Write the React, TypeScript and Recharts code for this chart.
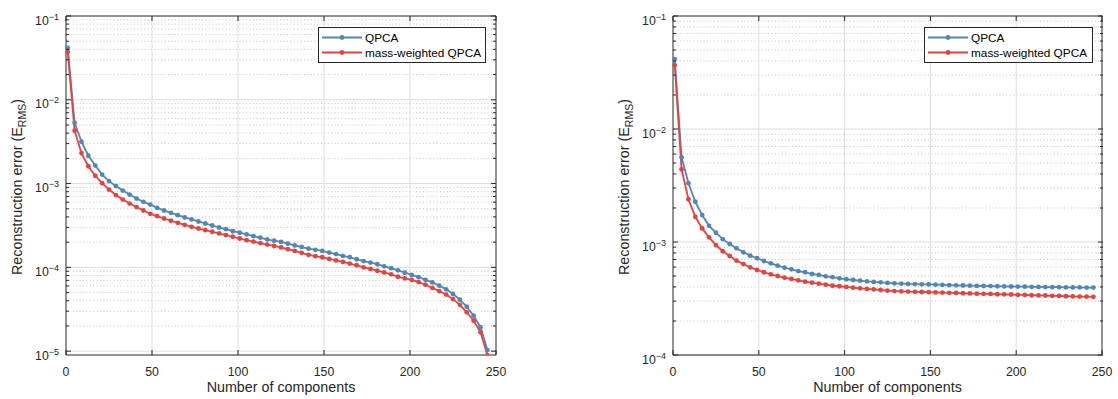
import React from "react";
import {
  LineChart,
  Line,
  XAxis,
  YAxis,
  ReferenceLine,
  Legend,
} from "recharts";

// number of components (x)
const components = [
  1, 5, 9, 13, 17, 21, 25, 29, 33, 37, 41, 45, 49, 53, 57, 61, 65, 69, 73, 77,
  81, 85, 89, 93, 97, 101, 105, 109, 113, 117, 121, 125, 129, 133, 137, 141,
  145, 149, 153, 157, 161, 165, 169, 173, 177, 181, 185, 189, 193, 197, 201,
  205, 209, 213, 217, 221, 225, 229, 233, 237, 241, 245,
];

// left panel
const leftQpca = [
  0.0416, 5.32e-3, 3.16e-3, 2.15e-3, 1.64e-3, 1.28e-3, 1.07e-3, 9.33e-4,
  8.26e-4, 7.4e-4, 6.63e-4, 6.05e-4, 5.62e-4, 5.14e-4, 4.77e-4, 4.48e-4,
  4.2e-4, 3.94e-4, 3.73e-4, 3.53e-4, 3.34e-4, 3.16e-4, 2.99e-4, 2.86e-4,
  2.7e-4, 2.59e-4, 2.47e-4, 2.36e-4, 2.26e-4, 2.15e-4, 2.08e-4, 2.01e-4,
  1.92e-4, 1.83e-4, 1.75e-4, 1.67e-4, 1.62e-4, 1.57e-4, 1.5e-4, 1.44e-4,
  1.37e-4, 1.32e-4, 1.25e-4, 1.19e-4, 1.14e-4, 1.09e-4, 1.03e-4, 9.77e-5,
  9.21e-5, 8.65e-5, 8.13e-5, 7.64e-5, 7.1e-5, 6.62e-5, 6.05e-5, 5.47e-5,
  4.81e-5, 4.12e-5, 3.39e-5, 2.65e-5, 1.93e-5, 1.03e-5,
];
const leftWeighted = [
  0.0373, 4.28e-3, 2.31e-3, 1.61e-3, 1.24e-3, 1.01e-3, 8.49e-4, 7.3e-4,
  6.45e-4, 5.78e-4, 5.25e-4, 4.77e-4, 4.36e-4, 4.08e-4, 3.83e-4, 3.6e-4,
  3.4e-4, 3.22e-4, 3.05e-4, 2.91e-4, 2.78e-4, 2.66e-4, 2.54e-4, 2.43e-4,
  2.32e-4, 2.21e-4, 2.11e-4, 2.03e-4, 1.95e-4, 1.87e-4, 1.8e-4, 1.73e-4,
  1.65e-4, 1.57e-4, 1.49e-4, 1.41e-4, 1.36e-4, 1.32e-4, 1.26e-4, 1.21e-4,
  1.16e-4, 1.11e-4, 1.06e-4, 1.0e-4, 9.57e-5, 9.12e-5, 8.71e-5, 8.26e-5,
  7.73e-5, 7.4e-5, 7.08e-5, 6.68e-5, 6.21e-5, 5.68e-5, 5.21e-5, 4.74e-5,
  4.18e-5, 3.57e-5, 2.91e-5, 2.31e-5, 1.68e-5, 8.95e-6,
];

// right panel
const rightQpca = [
  0.0416, 5.62e-3, 3.31e-3, 2.27e-3, 1.73e-3, 1.39e-3, 1.21e-3, 1.06e-3,
  9.6e-4, 8.79e-4, 8.11e-4, 7.57e-4, 7.18e-4, 6.79e-4, 6.48e-4, 6.17e-4,
  5.93e-4, 5.73e-4, 5.53e-4, 5.4e-4, 5.21e-4, 5.11e-4, 4.97e-4, 4.88e-4,
  4.77e-4, 4.68e-4, 4.61e-4, 4.55e-4, 4.49e-4, 4.43e-4, 4.4e-4, 4.34e-4,
  4.31e-4, 4.28e-4, 4.26e-4, 4.24e-4, 4.22e-4, 4.21e-4, 4.19e-4, 4.17e-4,
  4.15e-4, 4.14e-4, 4.12e-4, 4.11e-4, 4.09e-4, 4.08e-4, 4.07e-4, 4.06e-4,
  4.05e-4, 4.04e-4, 4.03e-4, 4.02e-4, 4.01e-4, 4.0e-4, 3.99e-4, 3.98e-4,
  3.98e-4, 3.97e-4, 3.96e-4, 3.96e-4, 3.95e-4, 3.95e-4,
];
const rightWeighted = [
  0.0368, 4.4e-3, 2.39e-3, 1.67e-3, 1.32e-3, 1.1e-3, 9.4e-4, 8.28e-4,
  7.52e-4, 6.84e-4, 6.38e-4, 5.97e-4, 5.65e-4, 5.4e-4, 5.18e-4, 5.0e-4,
  4.83e-4, 4.71e-4, 4.58e-4, 4.46e-4, 4.37e-4, 4.28e-4, 4.19e-4, 4.1e-4,
  4.06e-4, 4.0e-4, 3.94e-4, 3.89e-4, 3.84e-4, 3.81e-4, 3.76e-4, 3.71e-4,
  3.68e-4, 3.66e-4, 3.64e-4, 3.62e-4, 3.61e-4, 3.6e-4, 3.58e-4, 3.57e-4,
  3.55e-4, 3.54e-4, 3.52e-4, 3.51e-4, 3.49e-4, 3.48e-4, 3.47e-4, 3.45e-4,
  3.44e-4, 3.43e-4, 3.41e-4, 3.4e-4, 3.38e-4, 3.37e-4, 3.36e-4, 3.34e-4,
  3.33e-4, 3.31e-4, 3.3e-4, 3.29e-4, 3.28e-4, 3.27e-4,
];

const xTicks = [0, 50, 100, 150, 200, 250];
const leftDecades = [-5, -4, -3, -2, -1];
const rightDecades = [-4, -3, -2, -1];
const seriesNames = ["QPCA", "mass-weighted QPCA"];

const FONT = '"Liberation Sans", Arial, Helvetica, sans-serif';
const AXIS = "#262626";
const BLUE = "#4f87b7";
const RED = "#e8423f";
const PLOT_W = 430;
const PLOT_H = 339;

const majors = (decades: number[]) => decades.map((e) => Math.pow(10, e));
const minors = (decades: number[], yMin: number) =>
  decades
    .slice(0, -1)
    .flatMap((e) => [2, 3, 4, 5, 6, 7, 8, 9].map((m) => m * Math.pow(10, e)))
    .filter((v) => v > yMin * 1.001);

const YTick = (props: any) => {
  const { x, y, payload } = props;
  const lg = Math.log10(payload.value);
  const exp = Math.round(lg);
  const major = Math.abs(lg - exp) < 1e-6;
  const len = major ? 5 : 3;
  return (
    <g>
      <line x1={x} x2={x + len} y1={y} y2={y} stroke={AXIS} />
      <line x1={x + PLOT_W} x2={x + PLOT_W - len} y1={y} y2={y} stroke={AXIS} />
      {major && (
        <text
          x={x - 7}
          y={y + 8.5}
          textAnchor="end"
          fontSize={12.3}
          fontFamily={FONT}
          fill={AXIS}
        >
          10
          <tspan dy={-5} fontSize={9}>
            {"\u2212" + Math.abs(exp)}
          </tspan>
        </text>
      )}
    </g>
  );
};

const XTick = (props: any) => {
  const { x, y, payload } = props;
  return (
    <g>
      <line x1={x} x2={x} y1={y} y2={y - 5} stroke={AXIS} />
      <line x1={x} x2={x} y1={y - PLOT_H} y2={y - PLOT_H + 5} stroke={AXIS} />
      <text
        x={x}
        y={y + 20.5}
        textAnchor="middle"
        fontSize={12.3}
        fontFamily={FONT}
        fill={AXIS}
      >
        {payload.value}
      </text>
    </g>
  );
};

const YLabel = (props: any) => {
  const { x, y, height } = props.viewBox;
  const bx = x + 6;
  const cy = y + height / 2 + 1.5;
  return (
    <text
      x={bx}
      y={cy}
      transform={`rotate(-90, ${bx}, ${cy})`}
      textAnchor="middle"
      fontSize={14.3}
      fontFamily={FONT}
      fill={AXIS}
    >
      Reconstruction error (E
      <tspan dy={3.5} fontSize={10.5}>
        RMS
      </tspan>
      <tspan dy={-3.5}>)</tspan>
    </text>
  );
};

const XLabel = (props: any) => {
  const { x, y, width } = props.viewBox;
  return (
    <text
      x={x + width / 2}
      y={y + 36.5}
      textAnchor="middle"
      fontSize={14.3}
      fontFamily={FONT}
      fill={AXIS}
    >
      Number of components
    </text>
  );
};

const LegendBox = ({ width }: { width: number }) => (
  <svg width={width} height={36} style={{ display: "block" }}>
    <rect x={0.5} y={0.5} width={width - 1} height={35} fill="#fff" stroke={AXIS} />
    {seriesNames.map((name, i) => {
      const cy = 10.5 + i * 15;
      const color = i === 0 ? BLUE : RED;
      return (
        <g key={name}>
          <line x1={4} x2={44} y1={cy} y2={cy} stroke={color} strokeWidth={2} />
          <circle cx={24} cy={cy} r={2.4} fill={color} />
          <text x={47} y={cy + 4.2} fontSize={11.8} fontFamily={FONT} fill="#000">
            {name}
          </text>
        </g>
      );
    })}
  </svg>
);

interface PanelProps {
  qpca: number[];
  weighted: number[];
  yMin: number;
  decades: number[];
  marginLeft: number;
  marginRight: number;
  legendLeft: number;
  legendWidth: number;
}

function Panel({
  qpca,
  weighted,
  yMin,
  decades,
  marginLeft,
  marginRight,
  legendLeft,
  legendWidth,
}: PanelProps) {
  const data = components.map((n, i) => ({ n, qpca: qpca[i], weighted: weighted[i] }));
  const major = majors(decades);
  const minor = minors(decades, yMin);
  const yTicks = [...minor, ...major].sort((a, b) => a - b);
  return (
    <LineChart
      width={559}
      height={399}
      data={data}
      margin={{ top: 16, right: marginRight, bottom: 14, left: marginLeft }}
    >
      <XAxis
        dataKey="n"
        type="number"
        domain={[0, 250]}
        ticks={xTicks}
        interval={0}
        height={30}
        tickSize={0}
        tickMargin={0}
        tick={<XTick />}
        axisLine={{ stroke: AXIS }}
        label={<XLabel />}
      />
      <YAxis
        type="number"
        scale="log"
        domain={[yMin, 0.1]}
        allowDataOverflow
        ticks={yTicks}
        interval={0}
        width={50}
        tickSize={0}
        tickMargin={0}
        tick={<YTick />}
        axisLine={{ stroke: AXIS }}
        label={<YLabel />}
      />
      {minor.map((v) => (
        <ReferenceLine key={"m" + v} y={v} stroke="#c4c4c4" strokeDasharray="1 2.4" />
      ))}
      {major.slice(0, -1).map((v) => (
        <ReferenceLine key={"M" + v} y={v} stroke="#dedede" />
      ))}
      {xTicks.slice(1, -1).map((v) => (
        <ReferenceLine key={"x" + v} x={v} stroke="#dedede" />
      ))}
      <ReferenceLine y={0.1} stroke={AXIS} />
      <ReferenceLine x={250} stroke={AXIS} />
      <Line
        dataKey="qpca"
        name={seriesNames[0]}
        stroke={BLUE}
        strokeWidth={1.8}
        dot={{ r: 2.4, fill: BLUE, stroke: BLUE, strokeWidth: 0 }}
        activeDot={false}
        isAnimationActive={false}
      />
      <Line
        dataKey="weighted"
        name={seriesNames[1]}
        stroke={RED}
        strokeWidth={1.8}
        dot={{ r: 2.4, fill: RED, stroke: RED, strokeWidth: 0 }}
        activeDot={false}
        isAnimationActive={false}
      />
      <Legend
        layout="horizontal"
        verticalAlign="middle"
        content={() => <LegendBox width={legendWidth} />}
        wrapperStyle={{ left: legendLeft, top: 27, width: legendWidth, height: 36 }}
      />
    </LineChart>
  );
}

export default function App() {
  return (
    <div
      style={{
        position: "absolute",
        left: 0,
        top: 0,
        width: 1118,
        height: 399,
        background: "#fff",
      }}
    >
      <div style={{ position: "absolute", left: 0, top: 0 }}>
        <Panel
          qpca={leftQpca}
          weighted={leftWeighted}
          yMin={9e-6}
          decades={leftDecades}
          marginLeft={16}
          marginRight={63}
          legendLeft={318}
          legendWidth={168}
        />
      </div>
      <div style={{ position: "absolute", left: 559, top: 0 }}>
        <Panel
          qpca={rightQpca}
          weighted={rightWeighted}
          yMin={1e-4}
          decades={rightDecades}
          marginLeft={64}
          marginRight={16}
          legendLeft={365}
          legendWidth={169}
        />
      </div>
    </div>
  );
}
